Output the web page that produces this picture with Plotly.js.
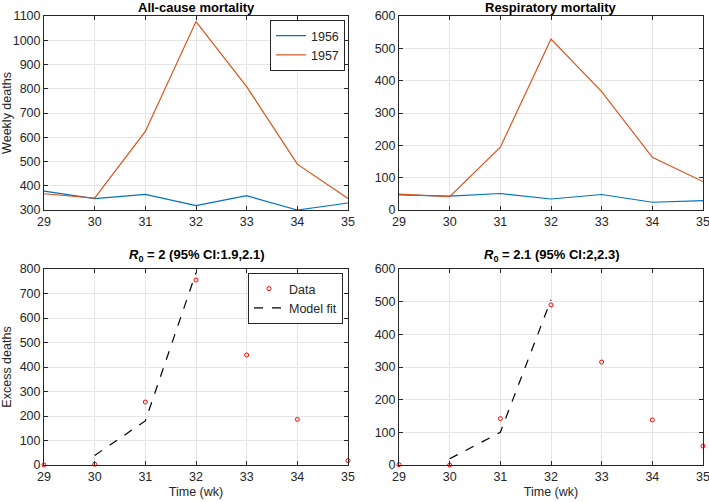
<!DOCTYPE html>
<html>
<head>
<meta charset="utf-8">
<script src="https://cdn.plot.ly/plotly-3.0.1.min.js"></script>
<style>html,body{margin:0;padding:0;background:#fff;}#chart{width:709px;height:502px;}</style>
</head>
<body>
<div id="chart"></div>
<script>
const weeks = [29, 30, 31, 32, 33, 34, 35];
const allCause1956 = [378, 347, 364, 318, 359, 300, 329];
const allCause1957 = [367, 349, 624, 1077, 809, 489, 347];
const resp1956 = [47, 43, 51, 34, 48, 24, 29];
const resp1957 = [49, 41, 194, 529, 366, 163, 88];
const excessAll = [0, 3, 257, 755, 449, 186, 18];
const fitWeeks = [30, 31, 32];
const fitAll = [39, 180, 785];
const excessResp = [1, 0, 142, 490, 315, 138, 58];
const fitResp = [19, 100, 506];

const titles = ['<b>All-cause mortality</b>', '<b>Respiratory mortality</b>',
  '<b><i>R</i><sub>0</sub> = 2 (95% CI:1.9,2.1)</b>', '<b><i>R</i><sub>0</sub> = 2.1 (95% CI:2,2.3)</b>'];

const blue = '#0072BD', orange = '#D95319';
const FONT = 'Liberation Sans, Arial, Helvetica, sans-serif';

const traces = [
  {x: weeks, y: allCause1956, type: 'scatter', mode: 'lines', name: '1956', line: {color: blue, width: 1.2}, xaxis: 'x', yaxis: 'y', legend: 'legend'},
  {x: weeks, y: allCause1957, type: 'scatter', mode: 'lines', name: '1957', line: {color: orange, width: 1.2}, xaxis: 'x', yaxis: 'y', legend: 'legend'},
  {x: weeks, y: resp1956, type: 'scatter', mode: 'lines', showlegend: false, line: {color: blue, width: 1.2}, xaxis: 'x2', yaxis: 'y2'},
  {x: weeks, y: resp1957, type: 'scatter', mode: 'lines', showlegend: false, line: {color: orange, width: 1.2}, xaxis: 'x2', yaxis: 'y2'},
  {x: weeks, y: excessAll, type: 'scatter', mode: 'markers', name: 'Data', marker: {symbol: 'circle-open', color: '#ff0000', size: 4, line: {width: 1, color: '#ff0000'}}, xaxis: 'x3', yaxis: 'y3', legend: 'legend2', cliponaxis: false},
  {x: fitWeeks, y: fitAll, type: 'scatter', mode: 'lines', name: 'Model fit', line: {color: '#000', width: 1.2, dash: 'dash'}, xaxis: 'x3', yaxis: 'y3', legend: 'legend2'},
  {x: weeks, y: excessResp, type: 'scatter', mode: 'markers', showlegend: false, marker: {symbol: 'circle-open', color: '#ff0000', size: 4, line: {width: 1, color: '#ff0000'}}, xaxis: 'x4', yaxis: 'y4', cliponaxis: false},
  {x: fitWeeks, y: fitResp, type: 'scatter', mode: 'lines', showlegend: false, line: {color: '#000', width: 1.2, dash: 'dash'}, xaxis: 'x4', yaxis: 'y4'}
];

const xL = [44/709, 348/709], xR = [399/709, 703/709];
const yT = [(502-210)/502, (502-16)/502], yB = [(502-465)/502, (502-269)/502];

function ax(extra) {
  return Object.assign({
    showline: true, mirror: 'ticks', linecolor: '#262626', linewidth: 1,
    ticks: 'inside', ticklen: 4, tickcolor: '#262626', tickwidth: 1,
    showgrid: true, gridcolor: '#e5e5e5', gridwidth: 1, zeroline: false,
    ticklabeloverflow: 'allow',
    tickfont: {family: FONT, size: 12.5, color: '#262626'}, fixedrange: true
  }, extra);
}
const xt = {range: [29, 35], dtick: 1, tick0: 29};
const tfont = {family: FONT, size: 12.5, color: '#262626'};
const layout = {
  width: 709, height: 502,
  margin: {l: 0, r: 0, t: 0, b: 0},
  paper_bgcolor: '#fff', plot_bgcolor: '#fff',
  font: {family: FONT, size: 12, color: '#262626'},
  xaxis: ax(Object.assign({domain: xL, anchor: 'y'}, xt)),
  yaxis: ax({domain: yT, anchor: 'x', range: [300, 1100], dtick: 100,
    title: {text: 'Weekly deaths', font: tfont, standoff: 6}}),
  xaxis2: ax(Object.assign({domain: xR, anchor: 'y2'}, xt)),
  yaxis2: ax({domain: yT, anchor: 'x2', range: [0, 600], dtick: 100}),
  xaxis3: ax(Object.assign({domain: xL, anchor: 'y3',
    title: {text: 'Time (wk)', font: tfont, standoff: 4}}, xt)),
  yaxis3: ax({domain: yB, anchor: 'x3', range: [0, 800], dtick: 100,
    title: {text: 'Excess deaths', font: tfont, standoff: 6}}),
  xaxis4: ax(Object.assign({domain: xR, anchor: 'y4',
    title: {text: 'Time (wk)', font: tfont, standoff: 4}}, xt)),
  yaxis4: ax({domain: yB, anchor: 'x4', range: [0, 600], dtick: 100}),
  legend: {x: 345/709, y: (502-20)/502, xanchor: 'right', yanchor: 'top', bgcolor: '#fff',
    bordercolor: '#262626', borderwidth: 1, font: {family: FONT, size: 12.5, color: '#262626'},
    tracegroupgap: 0, itemwidth: 30},
  legend2: {x: 343/709, y: (502-273)/502, xanchor: 'right', yanchor: 'top', bgcolor: '#fff',
    bordercolor: '#262626', borderwidth: 1, font: {family: FONT, size: 12.5, color: '#262626'},
    tracegroupgap: 0, itemwidth: 30},
  annotations: [
    {text: titles[0], x: (xL[0]+xL[1])/2, y: (502-8)/502},
    {text: titles[1], x: (xR[0]+xR[1])/2, y: (502-8)/502},
    {text: titles[2], x: (xL[0]+xL[1])/2, y: (502-255)/502},
    {text: titles[3], x: (xR[0]+xR[1])/2, y: (502-255)/502}
  ].map(a => Object.assign({xref: 'paper', yref: 'paper', showarrow: false, xanchor: 'center', yanchor: 'middle',
    font: {family: FONT, size: 13, color: '#000'}}, a))
};

Plotly.newPlot('chart', traces, layout, {displayModeBar: false, staticPlot: true});
</script>
</body>
</html>
